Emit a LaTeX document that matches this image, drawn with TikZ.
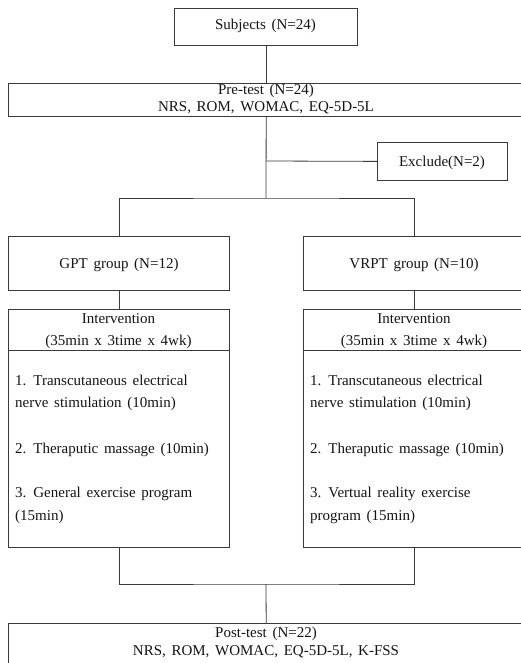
\documentclass[tikz,border=0pt]{standalone}
\usepackage{fontspec}
\setmainfont{Liberation Serif}
\definecolor{linec}{HTML}{3A3A3A}
\definecolor{txtc}{HTML}{141414}
\newcommand\flowfont{\fontsize{15}{18}\selectfont\spaceskip=0.38em plus 0.1em\relax}
\begin{document}
\begin{tikzpicture}[x=1pt,y=-1pt,
  box/.style={draw=linec,line width=0.8pt,rectangle,inner sep=0pt,anchor=north west},
  openbox/.style={rectangle,inner sep=0pt,anchor=north west},
  lbl/.style={inner sep=0pt,font=\flowfont,text=txtc,anchor=base},
  lbll/.style={lbl,anchor=base west},
  conn/.style={draw=linec,line width=0.8pt}]
\useasboundingbox (0,0) rectangle (521,663);
\clip (0,0) rectangle (521,663);
% boxes
\node[box,minimum width=183pt,minimum height=37pt] (subj) at (174,8) {};
\node[openbox,minimum width=516pt,minimum height=33pt] (pre) at (8,83) {};
\node[box,minimum width=130pt,minimum height=38pt] (exc) at (377,142) {};
\node[box,minimum width=221pt,minimum height=54pt] (gpt) at (8,236) {};
\node[openbox,minimum width=222pt,minimum height=54pt] (vrpt) at (303,236) {};
\node[box,minimum width=221pt,minimum height=238pt] (intl) at (8,309) {};
\node[openbox,minimum width=222pt,minimum height=238pt] (intr) at (303,309) {};
\node[openbox,minimum width=516pt,minimum height=50pt] (post) at (8,623) {};
% open box outlines (right side runs off the page)
\draw[conn] (pre.north east) -- (pre.north west) -- (pre.south west) -- (pre.south east);
\draw[conn] (vrpt.north east) -- (vrpt.north west) -- (vrpt.south west) -- (vrpt.south east);
\draw[conn] (intr.north east) -- (intr.north west) -- (intr.south west) -- (intr.south east);
\draw[conn] (post.north east) -- (post.north west) -- (post.south west);
% dividers
\draw[conn] (intl.west |- 0,350) -- (intl.east |- 0,350);
\draw[conn] (intr.west |- 0,350) -- (intr.east |- 0,350);
% texts
\node[lbl] (subjt) at (265.5,30) {Subjects (N=24)};
\node[lbl] (pret1) at (266,95) {Pre-test (N=24)};
\node[lbl] (pret2) at (266,112) {NRS, ROM, WOMAC, EQ-5D-5L};
\node[lbl] (exct) at (442,167) {Exclude(N=2)};
\node[lbl] (gptt) at (119,268) {GPT group (N=12)};
\node[lbl] (vrptt) at (414,268) {VRPT group (N=10)};
\node[lbl] (intlt1) at (118.5,323) {Intervention};
\node[lbl] (intlt2) at (118.5,345) {(35min x 3time x 4wk)};
\node[lbll] (l1a) at (15,385) {1. Transcutaneous electrical};
\node[lbll] (l1b) at (15,407) {nerve stimulation (10min)};
\node[lbll] (l2) at (15,453) {2. Theraputic massage (10min)};
\node[lbll] (l3a) at (15,497) {3. General exercise program};
\node[lbll] (l3b) at (15,520) {(15min)};
\node[lbl] (intrt1) at (414,323) {Intervention};
\node[lbl] (intrt2) at (414,345) {(35min x 3time x 4wk)};
\node[lbll] (r1a) at (310,385) {1. Transcutaneous electrical};
\node[lbll] (r1b) at (310,407) {nerve stimulation (10min)};
\node[lbll] (r2) at (310,453) {2. Theraputic massage (10min)};
\node[lbll] (r3a) at (310,497) {3. Vertual reality exercise};
\node[lbll] (r3b) at (310,520) {program (15min)};
\node[lbl] (postt1) at (266,637) {Post-test (N=22)};
\node[lbl] (postt2) at (266,655) {NRS, ROM, WOMAC, EQ-5D-5L, K-FSS};
% connectors
\coordinate (split) at (266,198);
\coordinate (excj) at (266,161);
\coordinate (merge) at (266,584);
\draw[conn] (subj.south) -- (subj.south |- pre.north);
\draw[conn] (pre.south) -- (split);
\draw[conn] (excj) -- (exc.west);
\draw[conn] (gpt.north) |- (split) -| (vrpt.north);
\draw[conn] (gpt.south) -- (intl.north);
\draw[conn] (vrpt.south) -- (intr.north);
\draw[conn] (intl.south) |- (merge) -| (intr.south);
\draw[conn] (merge) -- (post.north);
\end{tikzpicture}
\end{document}
